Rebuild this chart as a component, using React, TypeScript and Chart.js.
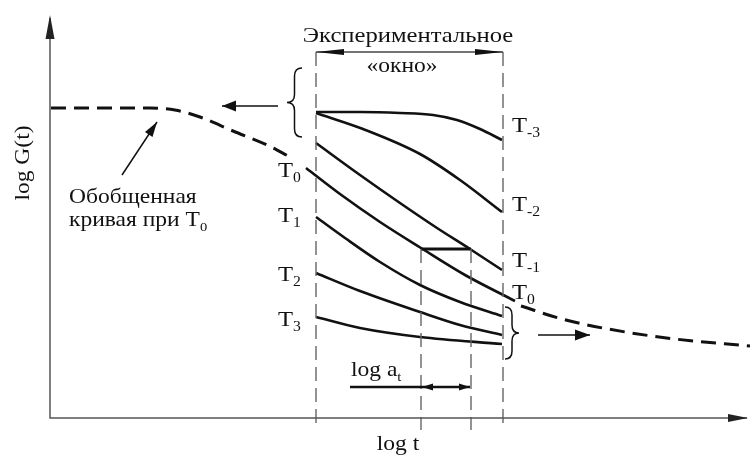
import React, { useEffect, useRef } from "react";
import { Chart, registerables } from "chart.js";

Chart.register(...registerables);

// ---- Data (x = log t, y = log G(t), arbitrary schematic units) ----
const masterLeftX = [0.01, 0.5, 1.0, 1.25, 1.5, 1.83, 2.17, 2.40];
const masterLeftY = [3.10, 3.10, 3.10, 3.08, 3.01, 2.87, 2.73, 2.61];
const masterRightX = [4.71, 5.12, 5.58, 6.25, 7.0];
const masterRightY = [1.12, 0.99, 0.89, 0.79, 0.72];

const tm3X = [2.66, 3.10, 3.50, 3.83, 4.07, 4.30, 4.52];
const tm3Y = [3.06, 3.06, 3.05, 3.03, 2.98, 2.89, 2.78];
const tm2X = [2.66, 3.13, 3.70, 4.10, 4.52];
const tm2Y = [3.05, 2.89, 2.64, 2.38, 2.06];
const tm1X = [2.66, 3.10, 3.50, 3.87, 4.20, 4.52];
const tm1Y = [2.75, 2.43, 2.15, 1.90, 1.69, 1.48];
const t0X = [2.56, 2.90, 3.30, 3.71, 4.15, 4.65];
const t0Y = [2.50, 2.24, 1.96, 1.70, 1.43, 1.17];
const t1X = [2.66, 2.95, 3.30, 3.70, 4.10, 4.52];
const t1Y = [2.01, 1.80, 1.56, 1.33, 1.16, 1.02];
const t2X = [2.66, 3.10, 3.70, 4.10, 4.52];
const t2Y = [1.45, 1.27, 1.06, 0.93, 0.83];
const t3X = [2.66, 3.10, 3.70, 4.52];
const t3Y = [1.01, 0.90, 0.81, 0.74];

// window and shift markers
const windowX = [2.66, 4.53];
const windowTopY = 3.66;
const shiftX = [3.71, 4.21];
const shiftY = 1.69;
const guideBottomY = -0.12;

const leftLabels = ["0", "1", "2", "3"];
const leftLabelY = [2.41, 1.96, 1.37, 0.92];
const rightLabels = ["-3", "-2", "-1", "0"];
const rightLabelY = [2.86, 2.07, 1.51, 1.19];

const zip = (xs: number[], ys: number[]) => xs.map((x, i) => ({ x, y: ys[i] }));

const FONT = '"Liberation Serif", "Times New Roman", serif';
const HS = 1.12;

type Part = { t: string; sub?: boolean };

function drawRich(
  ctx: CanvasRenderingContext2D,
  x: number,
  y: number,
  parts: Part[],
  size: number,
  align: "left" | "center" | "right"
) {
  const subSize = Math.round(size * 0.62);
  let total = 0;
  const widths = parts.map((p) => {
    ctx.font = `${p.sub ? subSize : size}px ${FONT}`;
    const w = ctx.measureText(p.t).width;
    total += w;
    return w;
  });
  const tw = total * HS;
  const sx = align === "left" ? x : align === "center" ? x - tw / 2 : x - tw;
  ctx.save();
  ctx.translate(sx, y);
  ctx.scale(HS, 1);
  ctx.textBaseline = "alphabetic";
  ctx.textAlign = "left";
  let cx = 0;
  parts.forEach((p, i) => {
    ctx.font = `${p.sub ? subSize : size}px ${FONT}`;
    ctx.fillText(p.t, cx, p.sub ? size * 0.22 : 0);
    cx += widths[i];
  });
  ctx.restore();
}

function arrowHead(
  ctx: CanvasRenderingContext2D,
  fx: number,
  fy: number,
  tx: number,
  ty: number,
  len: number,
  wid: number
) {
  const a = Math.atan2(ty - fy, tx - fx);
  const bx = tx - Math.cos(a) * len;
  const by = ty - Math.sin(a) * len;
  const px = -Math.sin(a) * (wid / 2);
  const py = Math.cos(a) * (wid / 2);
  ctx.beginPath();
  ctx.moveTo(tx, ty);
  ctx.lineTo(bx + px, by + py);
  ctx.lineTo(bx - px, by - py);
  ctx.closePath();
  ctx.fill();
}

function arrow(
  ctx: CanvasRenderingContext2D,
  x1: number,
  y1: number,
  x2: number,
  y2: number,
  len: number,
  wid: number,
  lw: number
) {
  ctx.lineWidth = lw;
  ctx.beginPath();
  ctx.moveTo(x1, y1);
  ctx.lineTo(x2, y2);
  ctx.stroke();
  arrowHead(ctx, x1, y1, x2, y2, len, wid);
}

function brace(
  ctx: CanvasRenderingContext2D,
  xBase: number,
  xTip: number,
  yTop: number,
  yBot: number
) {
  const yMid = (yTop + yBot) / 2;
  const xMid = (xBase + xTip) / 2;
  const r = Math.min(8, (yBot - yTop) / 6);
  ctx.beginPath();
  ctx.moveTo(xBase, yTop);
  ctx.quadraticCurveTo(xMid, yTop, xMid, yTop + r);
  ctx.lineTo(xMid, yMid - r);
  ctx.quadraticCurveTo(xMid, yMid, xTip, yMid);
  ctx.quadraticCurveTo(xMid, yMid, xMid, yMid + r);
  ctx.lineTo(xMid, yBot - r);
  ctx.quadraticCurveTo(xMid, yBot, xBase, yBot);
  ctx.stroke();
}

const annotations = {
  id: "annotations",
  afterDatasetsDraw(chart: any) {
    const ctx: CanvasRenderingContext2D = chart.ctx;
    const xs = chart.scales.x;
    const ys = chart.scales.y;
    const X = (v: number) => xs.getPixelForValue(v);
    const Y = (v: number) => ys.getPixelForValue(v);
    ctx.save();

    // axis arrowheads
    ctx.fillStyle = "#222";
    arrowHead(ctx, X(0), Y(0), X(0), Y(4.03), 24, 9);
    arrowHead(ctx, X(0), Y(0), X(6.98), Y(0), 20, 8);

    // window dimension arrows
    ctx.strokeStyle = "#444";
    ctx.lineWidth = 1.5;
    ctx.beginPath();
    ctx.moveTo(X(windowX[0]), Y(windowTopY));
    ctx.lineTo(X(windowX[1]), Y(windowTopY));
    ctx.stroke();
    ctx.fillStyle = "#111";
    arrowHead(ctx, X(windowX[1]), Y(windowTopY), X(windowX[0]), Y(windowTopY), 28, 6);
    arrowHead(ctx, X(windowX[0]), Y(windowTopY), X(windowX[1]), Y(windowTopY), 28, 6);

    ctx.strokeStyle = "#111";
    // left brace + arrow
    ctx.lineWidth = 1.5;
    brace(ctx, X(2.52), X(2.37), Y(3.50), Y(2.81));
    arrow(ctx, X(2.28), Y(3.12), X(1.72), Y(3.12), 14, 11, 1.5);

    // right brace + arrow
    brace(ctx, X(4.55), X(4.69), Y(1.11), Y(0.59));
    arrow(ctx, X(4.88), Y(0.83), X(5.40), Y(0.83), 15, 11, 1.5);

    // pointer arrow to master curve
    arrow(ctx, X(0.72), Y(2.43), X(1.07), Y(2.96), 15, 9, 1.5);

    // log a_t arrow
    ctx.lineWidth = 2.5;
    ctx.beginPath();
    ctx.moveTo(X(3.0), Y(0.31));
    ctx.lineTo(X(4.20), Y(0.31));
    ctx.stroke();
    arrowHead(ctx, X(4.0), Y(0.31), X(3.72), Y(0.31), 11, 7);
    arrowHead(ctx, X(3.9), Y(0.31), X(4.20), Y(0.31), 11, 7);

    // texts
    ctx.fillStyle = "#111";
    drawRich(ctx, X(3.58), Y(3.76), [{ t: "Экспериментальное" }], 22, "center");
    drawRich(ctx, X(3.52), Y(3.46), [{ t: "«окно»" }], 21, "center");
    drawRich(ctx, X(0.19), Y(2.15), [{ t: "Обобщенная" }], 21, "left");
    drawRich(ctx, X(0.19), Y(1.92), [{ t: "кривая при T" }, { t: "0", sub: true }], 21, "left");
    drawRich(ctx, X(3.48), Y(-0.32), [{ t: "log t" }], 21, "center");
    drawRich(ctx, X(3.01), Y(0.42), [{ t: "log a" }, { t: "t", sub: true }], 21, "left");

    leftLabels.forEach((s, i) =>
      drawRich(ctx, X(2.28), Y(leftLabelY[i]), [{ t: "T" }, { t: s, sub: true }], 22, "left")
    );
    rightLabels.forEach((s, i) =>
      drawRich(ctx, X(4.62), Y(rightLabelY[i]), [{ t: "T" }, { t: s, sub: true }], 22, "left")
    );

    // rotated y label
    ctx.save();
    ctx.translate(X(-0.28), Y(2.55));
    ctx.rotate(-Math.PI / 2);
    drawRich(ctx, 0, 7, [{ t: "log G(t)" }], 21, "center");
    ctx.restore();

    ctx.restore();
  },
};

export default function App() {
  const ref = useRef<HTMLCanvasElement | null>(null);

  useEffect(() => {
    if (!ref.current) return;
    const solid = (xs: number[], ys: number[]) => ({
      data: zip(xs, ys),
      showLine: true,
      borderColor: "#111",
      borderWidth: 2.6,
      pointRadius: 0,
      cubicInterpolationMode: "monotone" as const,
      fill: false,
    });
    const guide = (x: number, yTop: number) => ({
      data: [
        { x, y: yTop },
        { x, y: guideBottomY },
      ],
      showLine: true,
      borderColor: "#666",
      borderWidth: 1.4,
      borderDash: [14, 7],
      pointRadius: 0,
    });
    const chart = new Chart(ref.current, {
      type: "scatter",
      data: {
        datasets: [
          // axes
          {
            data: [
              { x: 0, y: 4.0 },
              { x: 0, y: 0 },
              { x: 6.97, y: 0 },
            ],
            showLine: true,
            borderColor: "#555",
            borderWidth: 1.5,
            pointRadius: 0,
          },
          guide(windowX[0], windowTopY),
          guide(windowX[1], windowTopY),
          guide(shiftX[0], shiftY),
          guide(shiftX[1], shiftY),
          {
            data: zip(masterLeftX, masterLeftY),
            showLine: true,
            borderColor: "#111",
            borderWidth: 3,
            borderDash: [15, 8],
            pointRadius: 0,
            cubicInterpolationMode: "monotone",
          },
          {
            data: zip(masterRightX, masterRightY),
            showLine: true,
            borderColor: "#111",
            borderWidth: 3,
            borderDash: [15, 8],
            pointRadius: 0,
            cubicInterpolationMode: "monotone",
          },
          solid(tm3X, tm3Y),
          solid(tm2X, tm2Y),
          solid(tm1X, tm1Y),
          solid(t0X, t0Y),
          solid(t1X, t1Y),
          solid(t2X, t2Y),
          solid(t3X, t3Y),
          {
            data: [
              { x: shiftX[0], y: shiftY },
              { x: shiftX[1], y: shiftY },
            ],
            showLine: true,
            borderColor: "#111",
            borderWidth: 3,
            pointRadius: 0,
          },
        ] as any,
      },
      options: {
        animation: false,
        responsive: false,
        layout: { padding: 0 },
        plugins: { legend: { display: false }, tooltip: { enabled: false } },
        scales: {
          x: { type: "linear", display: false, min: -0.5, max: 7.0 },
          y: { type: "linear", display: false, min: -0.4, max: 4.18 },
        },
      },
      plugins: [annotations],
    });
    return () => chart.destroy();
  }, []);

  return (
    <div style={{ position: "absolute", left: 0, top: 0, width: 750, height: 458, background: "#fff" }}>
      <canvas ref={ref} width={750} height={458} style={{ display: "block" }} />
    </div>
  );
}
